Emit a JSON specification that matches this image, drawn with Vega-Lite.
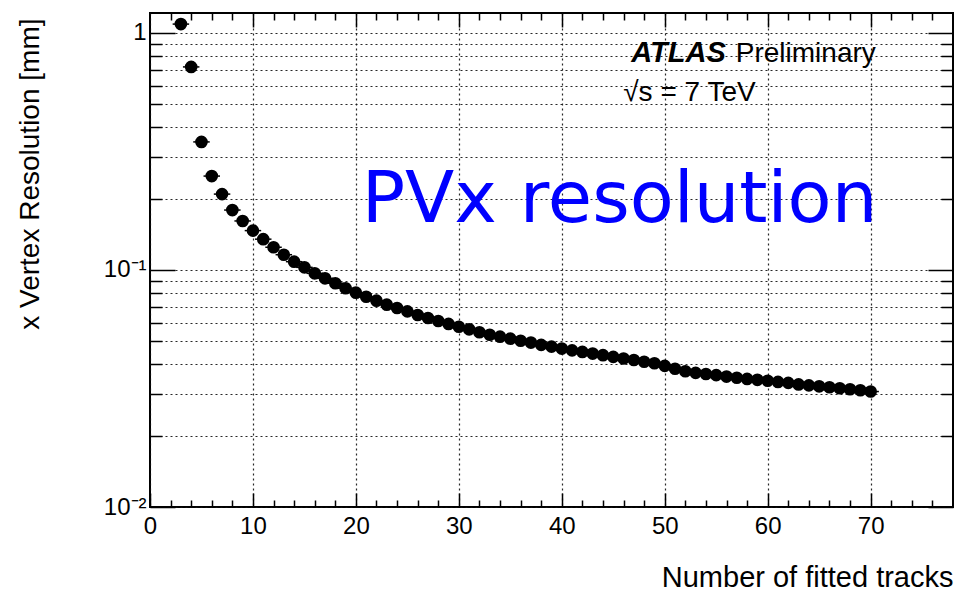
{
  "$schema": "https://vega.github.io/schema/vega-lite/v6.json",
  "width": 803,
  "height": 494,
  "autosize": {"type": "none"},
  "padding": {"left": 150, "top": 13, "right": 2, "bottom": 85},
  "background": "white",
  "config": {
    "view": {"stroke": "black", "strokeWidth": 2},
    "font": "Liberation Sans",
    "axis": {
      "labelFont": "Liberation Sans",
      "titleFont": "Liberation Sans",
      "labelColor": "black",
      "titleColor": "black",
      "titleFontWeight": "normal",
      "tickColor": "black",
      "tickWidth": 1.5,
      "domain": false,
      "labelFlush": false,
      "labelOverlap": false,
      "labelBound": false,
      "gridColor": "#111111",
      "gridDash": [2, 3],
      "gridWidth": 1.2,
      "gridOpacity": 0.9
    }
  },
  "data": {
    "values": [
      {"n": 3, "res": 1.09, "xlo": 2.2, "xhi": 3.8},
      {"n": 4, "res": 0.719, "xlo": 3.2, "xhi": 4.8},
      {"n": 5, "res": 0.347, "xlo": 4.2, "xhi": 5.8},
      {"n": 6, "res": 0.249, "xlo": 5.2, "xhi": 6.8},
      {"n": 7, "res": 0.209, "xlo": 6.2, "xhi": 7.8},
      {"n": 8, "res": 0.179, "xlo": 7.2, "xhi": 8.8},
      {"n": 9, "res": 0.161, "xlo": 8.2, "xhi": 9.8},
      {"n": 10, "res": 0.1466, "xlo": 9.2, "xhi": 10.8},
      {"n": 11, "res": 0.1349, "xlo": 10.2, "xhi": 11.8},
      {"n": 12, "res": 0.1247, "xlo": 11.2, "xhi": 12.8},
      {"n": 13, "res": 0.116, "xlo": 12.2, "xhi": 13.8},
      {"n": 14, "res": 0.1084, "xlo": 13.2, "xhi": 14.8},
      {"n": 15, "res": 0.1026, "xlo": 14.2, "xhi": 15.8},
      {"n": 16, "res": 0.0968, "xlo": 15.2, "xhi": 16.8},
      {"n": 17, "res": 0.0922, "xlo": 16.2, "xhi": 17.8},
      {"n": 18, "res": 0.0879, "xlo": 17.2, "xhi": 18.8},
      {"n": 19, "res": 0.0837, "xlo": 18.2, "xhi": 19.8},
      {"n": 20, "res": 0.0802, "xlo": 19.2, "xhi": 20.8},
      {"n": 21, "res": 0.0771, "xlo": 20.2, "xhi": 21.8},
      {"n": 22, "res": 0.0742, "xlo": 21.2, "xhi": 22.8},
      {"n": 23, "res": 0.0714, "xlo": 22.2, "xhi": 23.8},
      {"n": 24, "res": 0.0691, "xlo": 23.2, "xhi": 24.8},
      {"n": 25, "res": 0.0669, "xlo": 24.2, "xhi": 25.8},
      {"n": 26, "res": 0.0646, "xlo": 25.2, "xhi": 26.8},
      {"n": 27, "res": 0.0627, "xlo": 26.2, "xhi": 27.8},
      {"n": 28, "res": 0.0609, "xlo": 27.2, "xhi": 28.8},
      {"n": 29, "res": 0.0592, "xlo": 28.2, "xhi": 29.8},
      {"n": 30, "res": 0.0576, "xlo": 29.2, "xhi": 30.8},
      {"n": 31, "res": 0.0562, "xlo": 30.2, "xhi": 31.8},
      {"n": 32, "res": 0.0546, "xlo": 31.2, "xhi": 32.8},
      {"n": 33, "res": 0.0533, "xlo": 32.2, "xhi": 33.8},
      {"n": 34, "res": 0.0523, "xlo": 33.2, "xhi": 34.8},
      {"n": 35, "res": 0.0513, "xlo": 34.2, "xhi": 35.8},
      {"n": 36, "res": 0.0503, "xlo": 35.2, "xhi": 36.8},
      {"n": 37, "res": 0.0494, "xlo": 36.2, "xhi": 37.8},
      {"n": 38, "res": 0.0483, "xlo": 37.2, "xhi": 38.8},
      {"n": 39, "res": 0.0475, "xlo": 38.2, "xhi": 39.8},
      {"n": 40, "res": 0.0466, "xlo": 39.2, "xhi": 40.8},
      {"n": 41, "res": 0.0458, "xlo": 40.2, "xhi": 41.8},
      {"n": 42, "res": 0.0451, "xlo": 41.2, "xhi": 42.8},
      {"n": 43, "res": 0.0444, "xlo": 42.2, "xhi": 43.8},
      {"n": 44, "res": 0.0437, "xlo": 43.2, "xhi": 44.8},
      {"n": 45, "res": 0.043, "xlo": 44.2, "xhi": 45.8},
      {"n": 46, "res": 0.0423, "xlo": 45.2, "xhi": 46.8},
      {"n": 47, "res": 0.0417, "xlo": 46.2, "xhi": 47.8},
      {"n": 48, "res": 0.041, "xlo": 47.2, "xhi": 48.8},
      {"n": 49, "res": 0.0404, "xlo": 48.2, "xhi": 49.8},
      {"n": 50, "res": 0.0394, "xlo": 49.2, "xhi": 50.8},
      {"n": 51, "res": 0.0383, "xlo": 50.2, "xhi": 51.8},
      {"n": 52, "res": 0.0374, "xlo": 51.2, "xhi": 52.8},
      {"n": 53, "res": 0.0368, "xlo": 52.2, "xhi": 53.8},
      {"n": 54, "res": 0.0364, "xlo": 53.2, "xhi": 54.8},
      {"n": 55, "res": 0.036, "xlo": 54.2, "xhi": 55.8},
      {"n": 56, "res": 0.0355, "xlo": 55.2, "xhi": 56.8},
      {"n": 57, "res": 0.0351, "xlo": 56.2, "xhi": 57.8},
      {"n": 58, "res": 0.0347, "xlo": 57.2, "xhi": 58.8},
      {"n": 59, "res": 0.0344, "xlo": 58.2, "xhi": 59.8},
      {"n": 60, "res": 0.0341, "xlo": 59.2, "xhi": 60.8},
      {"n": 61, "res": 0.0337, "xlo": 60.2, "xhi": 61.8},
      {"n": 62, "res": 0.0334, "xlo": 61.2, "xhi": 62.8},
      {"n": 63, "res": 0.0329, "xlo": 62.2, "xhi": 63.8},
      {"n": 64, "res": 0.0326, "xlo": 63.2, "xhi": 64.8},
      {"n": 65, "res": 0.0323, "xlo": 64.2, "xhi": 65.8},
      {"n": 66, "res": 0.032, "xlo": 65.2, "xhi": 66.8},
      {"n": 67, "res": 0.0317, "xlo": 66.2, "xhi": 67.8},
      {"n": 68, "res": 0.0314, "xlo": 67.2, "xhi": 68.8},
      {"n": 69, "res": 0.0311, "xlo": 68.2, "xhi": 69.8},
      {"n": 70, "res": 0.0307, "xlo": 69.2, "xhi": 70.8}
    ]
  },
  "resolve": {"axis": {"x": "independent", "y": "independent"}},
  "layer": [
    {
      "mark": {"type": "rule", "color": "black", "strokeWidth": 1.5},
      "encoding": {
        "x": {
          "field": "xlo", "type": "quantitative",
          "scale": {"domain": [0, 78], "nice": false, "zero": false},
          "axis": {
            "orient": "bottom", "values": [0, 10, 20, 30, 40, 50, 60, 70],
            "tickSize": -14, "labelPadding": 21, "labelFontSize": 24,
            "grid": true,
            "title": "Number of fitted tracks", "titleFontSize": 29,
            "titleAnchor": "end", "titleAlign": "right", "titleBaseline": "alphabetic",
            "titleX": 803, "titleY": 79
          }
        },
        "x2": {"field": "xhi"},
        "y": {
          "field": "res", "type": "quantitative",
          "scale": {"type": "log", "domain": [0.01, 1.214], "nice": false},
          "axis": {
            "orient": "left", "values": [0.01, 0.1, 1],
            "tickSize": -25, "labelPadding": 29, "labelFontSize": 24,
            "labelExpr": "datum.value >= 0.5 ? '1' : (datum.value >= 0.05 ? '10⁻¹' : '10⁻²')",
            "grid": true,
            "title": "x Vertex Resolution [mm]", "titleFontSize": 28,
            "titleAngle": -90, "titleAlign": "right", "titleBaseline": "alphabetic",
            "titleX": -112, "titleY": 5
          }
        }
      }
    },
    {
      "mark": {"type": "point", "filled": true, "color": "black", "opacity": 1, "size": 160, "shape": "circle"},
      "encoding": {
        "x": {
          "field": "n", "type": "quantitative",
          "axis": {
            "orient": "bottom",
            "values": [2, 4, 6, 8, 12, 14, 16, 18, 22, 24, 26, 28, 32, 34, 36, 38, 42, 44, 46, 48, 52, 54, 56, 58, 62, 64, 66, 68, 72, 74, 76],
            "tickSize": -7, "labels": false, "grid": false, "title": null
          }
        },
        "y": {
          "field": "res", "type": "quantitative",
          "axis": {
            "orient": "left",
            "values": [0.02, 0.03, 0.04, 0.05, 0.06, 0.07, 0.08, 0.09, 0.2, 0.3, 0.4, 0.5, 0.6, 0.7, 0.8, 0.9],
            "tickSize": -12, "labels": false, "grid": true, "title": null
          }
        }
      }
    },
    {
      "mark": {"type": "point", "opacity": 0},
      "encoding": {
        "x": {
          "field": "n", "type": "quantitative",
          "axis": {"orient": "top", "values": [10, 20, 30, 40, 50, 60, 70], "tickSize": -14, "labels": false, "grid": false, "title": null}
        },
        "y": {
          "field": "res", "type": "quantitative",
          "axis": {"orient": "right", "values": [0.01, 0.1, 1], "tickSize": -25, "labels": false, "grid": false, "title": null}
        }
      }
    },
    {
      "mark": {"type": "point", "opacity": 0},
      "encoding": {
        "x": {
          "field": "n", "type": "quantitative",
          "axis": {
            "orient": "top",
            "values": [2, 4, 6, 8, 12, 14, 16, 18, 22, 24, 26, 28, 32, 34, 36, 38, 42, 44, 46, 48, 52, 54, 56, 58, 62, 64, 66, 68, 72, 74, 76],
            "tickSize": -7, "labels": false, "grid": false, "title": null
          }
        },
        "y": {
          "field": "res", "type": "quantitative",
          "axis": {
            "orient": "right",
            "values": [0.02, 0.03, 0.04, 0.05, 0.06, 0.07, 0.08, 0.09, 0.2, 0.3, 0.4, 0.5, 0.6, 0.7, 0.8, 0.9],
            "tickSize": -12, "labels": false, "grid": false, "title": null
          }
        }
      }
    },
    {
      "data": {"values": [{"label": "ATLAS"}]},
      "mark": {"type": "text", "font": "Liberation Sans", "fontSize": 29, "fontStyle": "italic", "fontWeight": "bold", "align": "left", "baseline": "alphabetic", "color": "black"},
      "encoding": {
        "text": {"field": "label"},
        "x": {"datum": 46.75, "type": "quantitative", "axis": null},
        "y": {"datum": 0.757, "type": "quantitative", "axis": null}
      }
    },
    {
      "data": {"values": [{"label": "Preliminary"}]},
      "mark": {"type": "text", "font": "Liberation Sans", "fontSize": 28, "align": "left", "baseline": "alphabetic", "color": "black"},
      "encoding": {
        "text": {"field": "label"},
        "x": {"datum": 56.9, "type": "quantitative", "axis": null},
        "y": {"datum": 0.757, "type": "quantitative", "axis": null}
      }
    },
    {
      "data": {"values": [{"label": "√s = 7 TeV"}]},
      "mark": {"type": "text", "font": "Liberation Sans", "fontSize": 28, "align": "left", "baseline": "alphabetic", "color": "black"},
      "encoding": {
        "text": {"field": "label"},
        "x": {"datum": 45.97, "type": "quantitative", "axis": null},
        "y": {"datum": 0.5164, "type": "quantitative", "axis": null}
      }
    },
    {
      "data": {"values": [{"label": "PVx resolution"}]},
      "mark": {"type": "text", "font": "DejaVu Sans", "fontSize": 72, "align": "left", "baseline": "alphabetic", "color": "#0000ff"},
      "encoding": {
        "text": {"field": "label"},
        "x": {"datum": 20.56, "type": "quantitative", "axis": null},
        "y": {"datum": 0.1594, "type": "quantitative", "axis": null}
      }
    }
  ]
}
